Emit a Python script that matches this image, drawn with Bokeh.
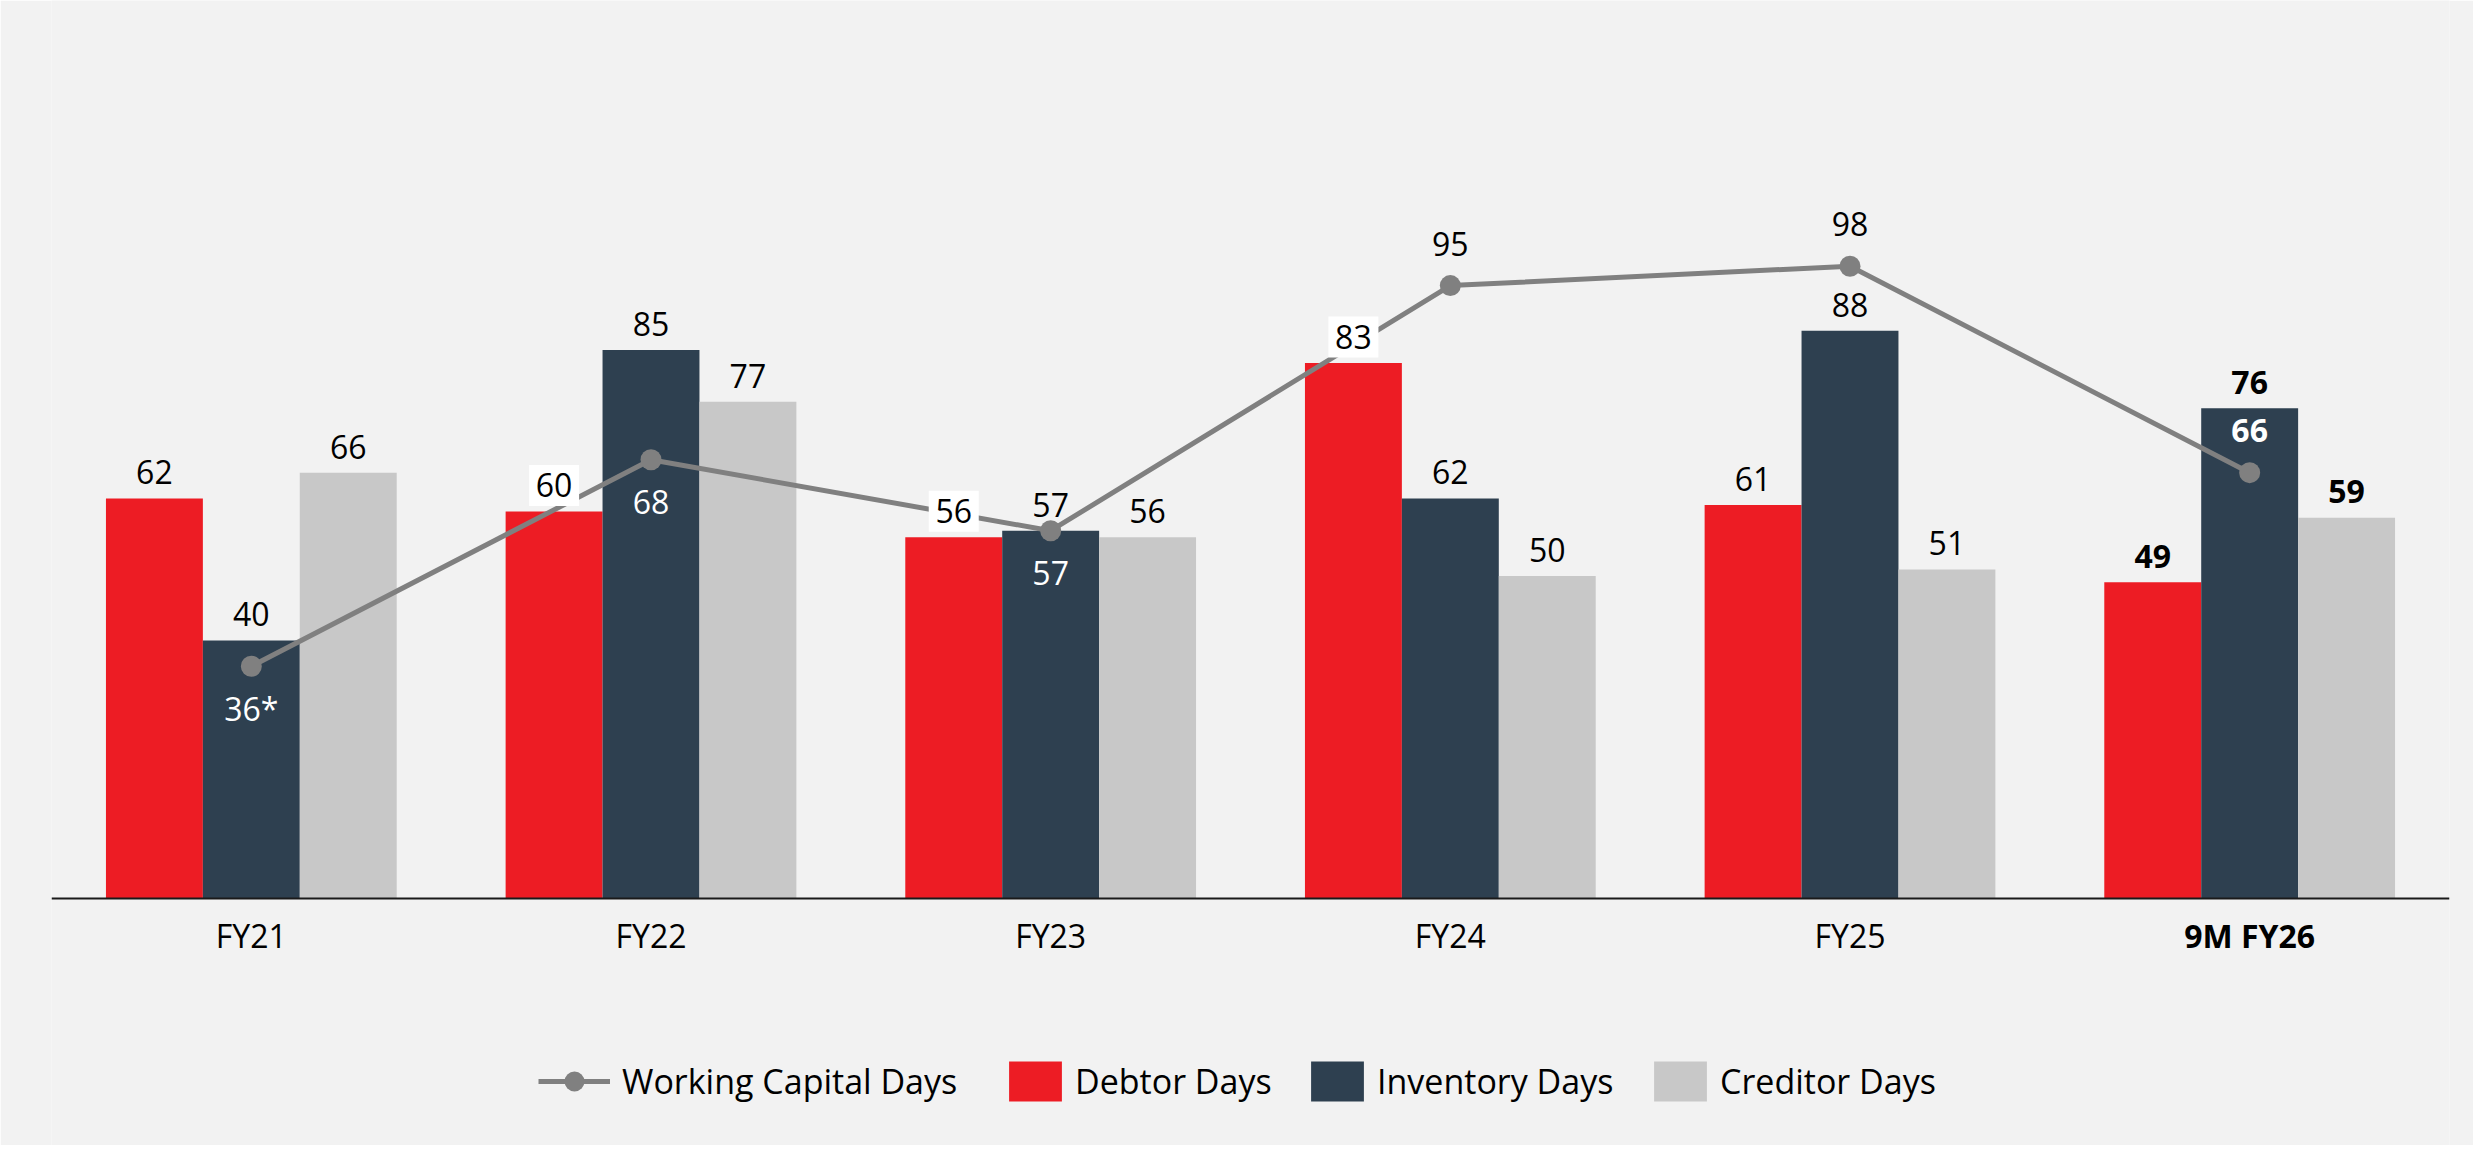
from bokeh.plotting import figure
from bokeh.models import ColumnDataSource, FactorRange, Range1d, Span, Legend, LegendItem
from bokeh.transform import dodge
from bokeh.core.properties import value
from bokeh.embed import file_html
from bokeh.resources import INLINE

# ---------------- data ----------------
categories = ["FY21", "FY22", "FY23", "FY24", "FY25", "9M FY26"]
debtor_days = [62, 60, 56, 83, 61, 49]
inventory_days = [40, 85, 57, 62, 88, 76]
creditor_days = [66, 77, 56, 50, 51, 59]
working_capital_days = [36, 68, 57, 95, 98, 66]
working_capital_labels = ["36*", "68", "57", "95", "98", "66"]
bar_series = ["Debtor Days", "Inventory Days", "Creditor Days"]
line_series = "Working Capital Days"

# ---------------- layout / style ----------------
W, H = 2473, 1145
LEFT, RIGHT = 51, 24
BASE = 898          # baseline, px from top of figure
PX = 6.452          # px per day
FONT = "Open Sans"
FS = "32px"
LEG_FS = "34px"
RED, NAVY, GREY, LINE = "#ED1C24", "#2E4050", "#C8C8C8", "#808080"
BG = "#F2F2F2"
BAR_W = 0.2425
OFFSETS = [-BAR_W, 0.0, BAR_W]
COLORS = [RED, NAVY, GREY]
BOLD_CATEGORY = "9M FY26"
BOXED = {(0, 1), (0, 2), (0, 3)}              # (series, category) labels with white box
WC_ABOVE = [False, False, False, True, True, True]
WC_COLOR = ["white", "white", "white", "black", "black", "white"]

styles = ["bold" if c == BOLD_CATEGORY else "normal" for c in categories]

p = figure(width=W, height=H,
           x_range=FactorRange(*categories, range_padding=0),
           y_range=Range1d(-(H - BASE) / PX, BASE / PX),
           output_backend="svg", toolbar_location=None,
           x_axis_location=None, y_axis_location=None,
           min_border_left=LEFT, min_border_right=RIGHT,
           min_border_top=0, min_border_bottom=0)
p.background_fill_color = BG
p.border_fill_color = BG
p.outline_line_color = None
p.xgrid.visible = False
p.ygrid.visible = False

bar_renderers = []
label_sources = []
for k, (vals, color, off) in enumerate(zip([debtor_days, inventory_days, creditor_days], COLORS, OFFSETS)):
    src = ColumnDataSource(dict(
        cat=categories, val=vals,
        ly=[v + 26 / PX for v in vals],
        txt=[str(v) for v in vals],
        style=styles,
    ))
    r = p.vbar(x=dodge("cat", off, range=p.x_range), top="val", bottom=0, width=BAR_W,
               source=src, fill_color=color, line_color=None)
    bar_renderers.append(r)
    label_sources.append((src, off))

# baseline
p.add_layout(Span(location=0, dimension="width", line_color="#1A1A1A", line_width=2))

# working capital line
wc_src = ColumnDataSource(dict(
    cat=categories, wc=working_capital_days, txt=working_capital_labels,
    ly=[w + (42 if a else -42) / PX for w, a in zip(working_capital_days, WC_ABOVE)],
    color=WC_COLOR, style=styles,
))
r_line = p.line(x="cat", y="wc", source=wc_src, line_color=LINE, line_width=5)
r_pts = p.scatter(x="cat", y="wc", source=wc_src, size=21, fill_color=LINE, line_color=None)

# white boxes behind some bar labels
for k, (src, off) in enumerate(label_sources):
    idx = [i for i in range(len(categories)) if (k, i) in BOXED]
    if idx:
        bsrc = ColumnDataSource(dict(cat=[categories[i] for i in idx],
                                     ly=[src.data["ly"][i] for i in idx]))
        p.rect(x=dodge("cat", off, range=p.x_range), y="ly", width=50, height=41,
               width_units="screen", height_units="screen", source=bsrc,
               fill_color="white", line_color=None)

# bar value labels
for src, off in label_sources:
    p.text(x=dodge("cat", off, range=p.x_range), y="ly", text="txt", source=src,
           text_align="center", text_baseline="middle", text_font=value(FONT),
           text_font_size=value(FS), text_font_style="style", text_color="black")

# line labels
p.text(x="cat", y="ly", text="txt", source=wc_src, text_align="center", text_baseline="middle",
       text_font=value(FONT), text_font_size=value(FS), text_font_style="style", text_color="color")

# category labels
cat_src = ColumnDataSource(dict(cat=categories, y=[-37 / PX] * len(categories), style=styles))
p.text(x="cat", y="y", text="cat", source=cat_src, text_align="center", text_baseline="middle",
       text_font=value(FONT), text_font_size=value(FS), text_font_style="style", text_color="black")

# legends (one per item, to reproduce spacing)
def add_legend(label, renderers, x, gw, gh, standoff):
    lg = Legend(items=[LegendItem(label=label, renderers=renderers)],
                location=(x - LEFT, 39), orientation="horizontal",
                glyph_width=gw, glyph_height=gh, label_standoff=standoff,
                padding=0, margin=0, spacing=0,
                background_fill_alpha=0, border_line_alpha=0,
                label_text_font=FONT, label_text_font_size=LEG_FS, label_text_color="black")
    p.add_layout(lg)

add_legend(line_series, [r_line, r_pts], 538, 72, 50, 12)
add_legend(bar_series[0], [bar_renderers[0]], 1002, 66, 50, 7)
add_legend(bar_series[1], [bar_renderers[1]], 1304, 66, 50, 7)
add_legend(bar_series[2], [bar_renderers[2]], 1647, 66, 50, 7)

open("out.html", "w").write(file_html(p, INLINE))
